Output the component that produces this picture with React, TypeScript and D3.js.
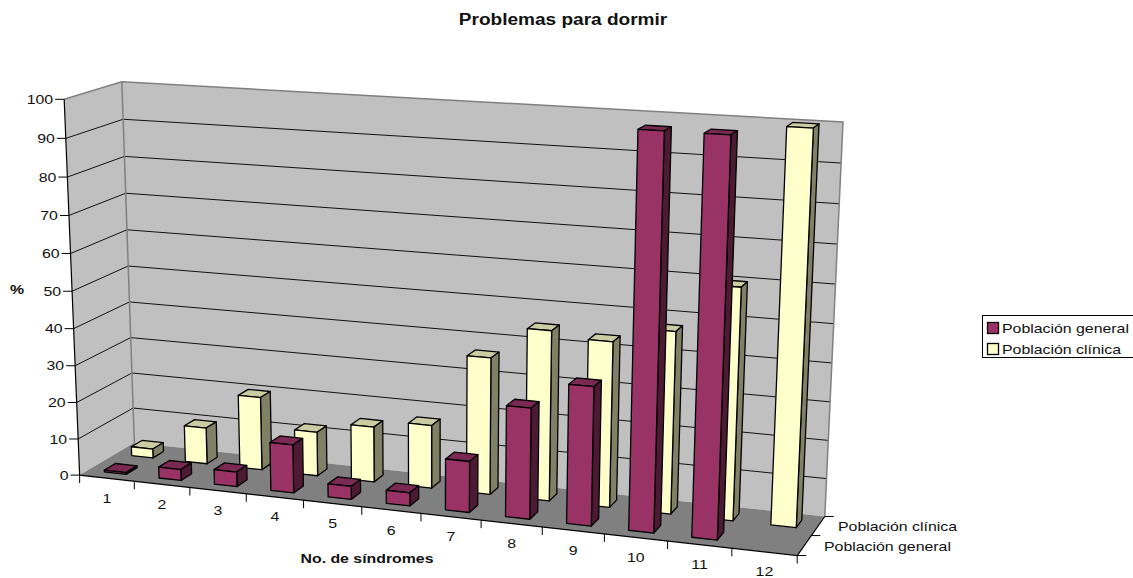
import React from "react";
import * as d3 from "d3";

const title = "Problemas para dormir";
const yTitle = "%";
const xTitle = "No. de síndromes";
const categories = ["1", "2", "3", "4", "5", "6", "7", "8", "9", "10", "11", "12"];
const seriesNames = ["Población general", "Población clínica"];
const generalValues = [0.5, 3, 4, 13, 3.5, 3.5, 13.5, 29, 36, 100, 100, 0];
const clinicalValues = [2.5, 10, 20, 12, 15, 17, 36.5, 45, 43.5, 47.5, 60, 100];
const valueTicks = [0, 10, 20, 30, 40, 50, 60, 70, 80, 90, 100];

const FONT = "'Liberation Sans', Arial, sans-serif";
const TEXT_STRETCH = 1.19;
const palette = [
  { front: "#993366", side: "#4d1a33", top: "#7a2952" },
  { front: "#ffffcc", side: "#808066", top: "#cccca3" },
];

// Known box corners as (u, v, w) -> screen, used to fit a perspective camera.
const anchors: [number, number, number, number, number][] = [
  [0, 0, 0, 80, 475],
  [1, 0, 0, 797, 556],
  [1, 1, 0, 825, 516],
  [0, 1, 0, 134, 443],
  [0, 0, 1, 64, 99],
  [0, 1, 1, 122, 82],
  [1, 1, 1, 843, 122],
];

// Least-squares fit of the 11 projective camera terms via normal equations.
function fitCamera() {
  const rows: number[][] = [];
  const rhs: number[] = [];
  for (const [u, v, w, sx, sy] of anchors) {
    const x = sx / 1000;
    const y = sy / 1000;
    rows.push([u, v, w, 1, 0, 0, 0, 0, -x * u, -x * v, -x * w]);
    rhs.push(x);
    rows.push([0, 0, 0, 0, u, v, w, 1, -y * u, -y * v, -y * w]);
    rhs.push(y);
  }
  const n = 11;
  const m: number[][] = d3.range(n).map((i) =>
    d3.range(n + 1).map((j) =>
      j < n ? d3.sum(rows, (r) => r[i] * r[j]) : d3.sum(rows, (r, k) => r[i] * rhs[k])
    )
  );
  for (let c = 0; c < n; c++) {
    let p = c;
    for (let r = c + 1; r < n; r++) if (Math.abs(m[r][c]) > Math.abs(m[p][c])) p = r;
    [m[c], m[p]] = [m[p], m[c]];
    for (let r = 0; r < n; r++) {
      if (r === c) continue;
      const f = m[r][c] / m[c][c];
      for (let k = c; k <= n; k++) m[r][k] -= f * m[c][k];
    }
  }
  return m.map((row, i) => row[n] / row[i]);
}

const cam = fitCamera();
const project = (u: number, v: number, w: number): [number, number] => {
  const d = cam[8] * u + cam[9] * v + cam[10] * w + 1;
  return [
    (1000 * (cam[0] * u + cam[1] * v + cam[2] * w + cam[3])) / d,
    (1000 * (cam[4] * u + cam[5] * v + cam[6] * w + cam[7])) / d,
  ];
};

const wScale = d3.scaleLinear().domain([0, 100]).range([0, 1]);
const uScale = d3.scaleBand<string>().domain(categories).range([0, 1]).paddingInner(0.6).paddingOuter(0.3);
const vScale = d3.scaleBand<string>().domain(seriesNames).range([0, 1]).paddingInner(0.6).paddingOuter(0.3);

const lineGen = d3.line<[number, number]>();
const closed = (pts: [number, number, number][]) => lineGen(pts.map((p) => project(p[0], p[1], p[2]))) + "Z";
const open = (pts: [number, number, number][]) => lineGen(pts.map((p) => project(p[0], p[1], p[2]))) as string;

// Text drawn with the chart's horizontally widened letterforms.
function Label({ x, y, anchor = "start", size = 13.33, bold = false, children }: {
  x: number; y: number; anchor?: "start" | "middle" | "end"; size?: number; bold?: boolean; children: React.ReactNode;
}) {
  return (
    <text
      transform={`translate(${x},${y}) scale(${TEXT_STRETCH},1)`}
      textAnchor={anchor}
      fontFamily={FONT}
      fontSize={size}
      fontWeight={bold ? "bold" : "normal"}
      fill="#111"
    >
      {children}
    </text>
  );
}

function Bar({ cat, series, value, colors }: { cat: string; series: string; value: number; colors: (typeof palette)[0] }) {
  const u0 = uScale(cat)!;
  const u1 = u0 + uScale.bandwidth();
  const v0 = vScale(series)!;
  const v1 = v0 + vScale.bandwidth();
  const w = wScale(value);
  const props = { stroke: "#000", strokeWidth: 1.3, strokeLinejoin: "round" as const };
  return (
    <g>
      <path d={closed([[u0, v0, w], [u1, v0, w], [u1, v1, w], [u0, v1, w]])} fill={colors.top} {...props} />
      <path d={closed([[u1, v0, 0], [u1, v1, 0], [u1, v1, w], [u1, v0, w]])} fill={colors.side} {...props} />
      <path d={closed([[u0, v0, 0], [u1, v0, 0], [u1, v0, w], [u0, v0, w]])} fill={colors.front} {...props} />
    </g>
  );
}

export default function App() {
  const seriesValues = [generalValues, clinicalValues];
  return (
    <svg width={1133} height={578} style={{ position: "absolute", left: 0, top: 0, background: "#fff" }}>
      <Label x={563} y={25} anchor="middle" size={16} bold>{title}</Label>

      {/* Walls and floor */}
      <path d={closed([[0, 0, 0], [0, 1, 0], [0, 1, 1], [0, 0, 1]])} fill="#c0c0c0" />
      <path d={closed([[0, 1, 0], [1, 1, 0], [1, 1, 1], [0, 1, 1]])} fill="#c0c0c0" />
      <path d={closed([[0, 0, 0], [1, 0, 0], [1, 1, 0], [0, 1, 0]])} fill="#808080" />

      {/* Gridlines */}
      {valueTicks.slice(1, -1).map((t) => (
        <path key={t} d={open([[0, 0, wScale(t)], [0, 1, wScale(t)], [1, 1, wScale(t)]])} fill="none" stroke="#111" strokeWidth={1} />
      ))}
      <path d={open([[0, 0, 1], [0, 1, 1], [1, 1, 1], [1, 1, 0]])} fill="none" stroke="#808080" strokeWidth={1.5} />
      <path d={open([[0, 1, 1], [0, 1, 0]])} fill="none" stroke="#808080" strokeWidth={1.5} />

      {/* Bars, far row first */}
      {[1, 0].map((s) =>
        categories.map((c, i) =>
          seriesValues[s][i] > 0 ? (
            <Bar key={s + c} cat={c} series={seriesNames[s]} value={seriesValues[s][i]} colors={palette[s]} />
          ) : null
        )
      )}

      {/* Axes */}
      <path d={open([[0, 0, 1], [0, 0, 0], [1, 0, 0], [1, 1, 0]])} fill="none" stroke="#000" strokeWidth={1.2} />
      {valueTicks.map((t) => {
        const [x, y] = project(0, 0, wScale(t));
        return (
          <g key={t}>
            <line x1={x - 9} x2={x} y1={y} y2={y} stroke="#000" />
            <Label x={x - 11} y={y + 4.6} anchor="end">{t}</Label>
          </g>
        );
      })}
      {d3.range(13).map((i) => {
        const [x, y] = project(i / 12, 0, 0);
        return <line key={i} x1={x} x2={x} y1={y} y2={y + 8} stroke="#000" />;
      })}
      {categories.map((c) => {
        const [x, y] = project(uScale(c)! + uScale.bandwidth() / 2, 0, 0);
        return <Label key={c} x={x} y={y + 24.5} anchor="middle">{c}</Label>;
      })}
      {[0, 0.5, 1].map((v) => {
        const [x, y] = project(1, v, 0);
        return <line key={v} x1={x} x2={x + 9} y1={y} y2={y} stroke="#000" />;
      })}
      <Label x={838} y={531}>{seriesNames[1]}</Label>
      <Label x={824} y={551}>{seriesNames[0]}</Label>

      <Label x={17} y={294} anchor="middle" bold>{yTitle}</Label>
      <Label x={367} y={563} anchor="middle" bold>{xTitle}</Label>

      {/* Legend */}
      <rect x={982.5} y={315.5} width={160} height={42} fill="#fff" stroke="#000" />
      {seriesNames.map((name, i) => (
        <g key={name}>
          <rect x={987.5} y={322.5 + i * 21} width={11} height={11} fill={palette[i].front} stroke="#000" strokeWidth={1.3} />
          <Label x={1002} y={332.5 + i * 21}>{name}</Label>
        </g>
      ))}
    </svg>
  );
}
